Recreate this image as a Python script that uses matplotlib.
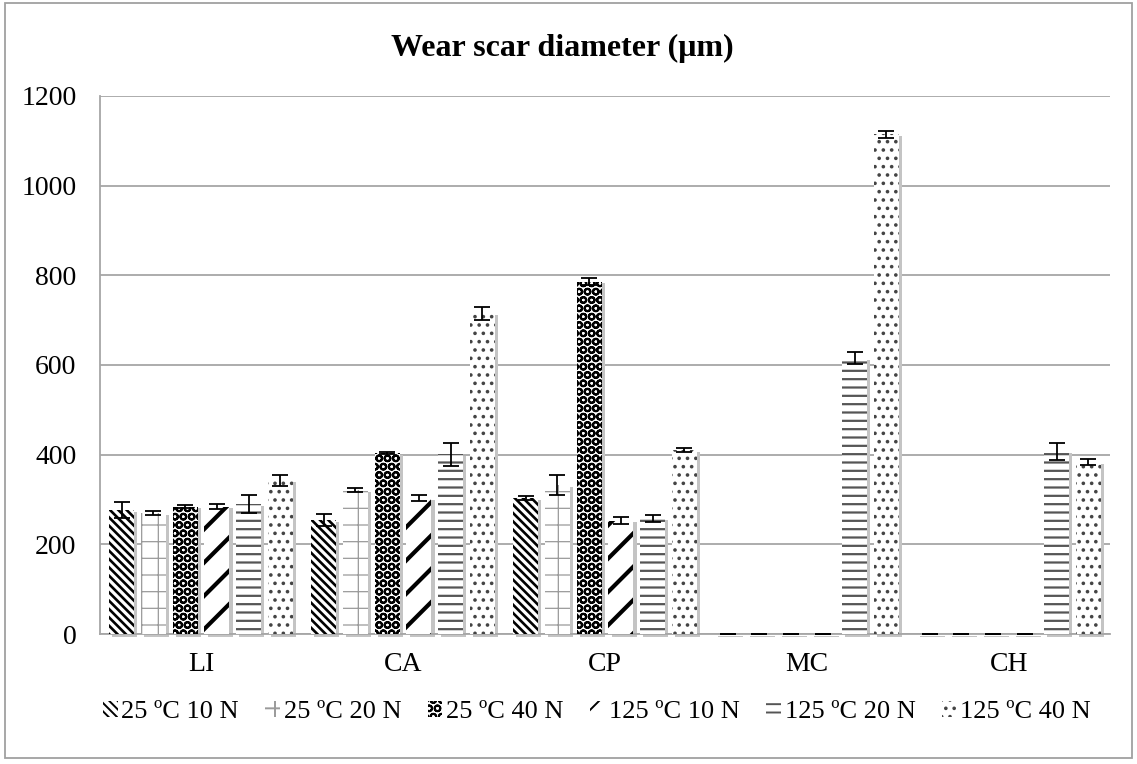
import matplotlib
matplotlib.use("Agg")
import matplotlib.pyplot as plt
import matplotlib.patches as mpatches
import numpy as np

plt.rcParams["font.family"] = ["Liberation Serif", "DejaVu Serif"]

# ---------- data ----------
categories = ["LI", "CA", "CP", "MC", "CH"]
series_labels = ["25 ºC 10 N", "25 ºC 20 N", "25 ºC 40 N",
                 "125 ºC 10 N", "125 ºC 20 N", "125 ºC 40 N"]

# wear scar diameter (um), one list per condition, order = categories
wsd_25_10 = [277, 254, 303, 0, 0]
wsd_25_20 = [270, 321, 332, 0, 0]
wsd_25_40 = [284, 403, 786, 0, 0]
wsd_125_10 = [284, 303, 253, 0, 0]
wsd_125_20 = [290, 401, 258, 616, 408]
wsd_125_40 = [343, 715, 410, 1115, 384]

err_25_10 = [18, 13, 5, 0, 0]
err_25_20 = [5, 4, 22, 0, 0]
err_25_40 = [4, 2, 8, 0, 0]
err_125_10 = [5, 6, 7, 0, 0]
err_125_20 = [20, 26, 8, 13, 19]
err_125_40 = [12, 14, 4, 8, 7]

values = [wsd_25_10, wsd_25_20, wsd_25_40, wsd_125_10, wsd_125_20, wsd_125_40]
errors = [err_25_10, err_25_20, err_25_40, err_125_10, err_125_20, err_125_40]

# pattern per series: (hatch, hatch colour, hatch linewidth)
STYLES = [
    ("\\\\\\\\", "black", 1.9),
    ("+", "#9a9a9a", 0.9),
    ("OO", "black", 1.5),
    ("/", "black", 3.0),
    ("--", "#555555", 1.6),
    ("..", "#444444", 1.4),
]

# ---------- figure ----------
W, H = 1137, 764
fig = plt.figure(figsize=(W / 100, H / 100), dpi=100)
ax = fig.add_axes([100 / W, 1 - 634 / H, 1010 / W, 538 / H])

x = np.arange(len(categories))
bw = 0.124
pitch = 0.157

handles = []
for k, (vals, errs) in enumerate(zip(values, errors)):
    hatch, hcol, hlw = STYLES[k]
    pos = x + (k - 2.5) * pitch
    # soft shadow
    ax.bar(pos + 0.016, np.array(vals) + 3, width=bw, bottom=-7,
           color="#c4c4c4", linewidth=0, zorder=2, clip_on=False)
    plt.rcParams["hatch.linewidth"] = hlw
    bars = ax.bar(pos, vals, width=bw, facecolor="white", edgecolor=hcol,
                  hatch=hatch, linewidth=0, zorder=3, label=series_labels[k])
    for b in bars:
        if hasattr(b, "set_hatch_linewidth"):
            b.set_hatch_linewidth(hlw)
    ax.errorbar(pos, vals, yerr=errs, fmt="none", ecolor="black",
                elinewidth=1.3, capsize=6, capthick=1.3, zorder=4)
    handles.append(bars)

ax.set_xlim(-0.5, 4.5)
ax.set_ylim(0, 1200)
ax.set_yticks(range(0, 1201, 200))
ax.set_xticks(x)
ax.set_xticklabels(categories)
ax.tick_params(axis="both", length=0, labelsize=20)
ax.tick_params(axis="x", pad=13)
ax.tick_params(axis="y", pad=17)
ax.yaxis.grid(True, color="#a6a6a6", linewidth=1.3, zorder=0)
ax.set_axisbelow(True)
for s in ["top", "right"]:
    ax.spines[s].set_visible(False)
for s in ["left", "bottom"]:
    ax.spines[s].set_color("#a6a6a6")
    ax.spines[s].set_linewidth(1.3)

fig.text(562 / W, 1 - 48 / H, "Wear scar diameter (μm)", ha="center",
         va="center", fontsize=23, fontweight="bold")

leg = fig.legend(handles=handles, labels=series_labels, loc="center",
                 bbox_to_anchor=(597 / W, 1 - 712 / H), ncol=6,
                 frameon=False, fontsize=19, handlelength=0.55,
                 handleheight=0.55, handletextpad=0.15, columnspacing=1.0)

# outer chart border
fig.patches.append(mpatches.Rectangle(
    (5 / W, 1 - 758 / H), 1127 / W, 755 / H, transform=fig.transFigure,
    fill=False, edgecolor="#a0a0a0", linewidth=1.3))

fig.savefig("out.png", dpi=100)
